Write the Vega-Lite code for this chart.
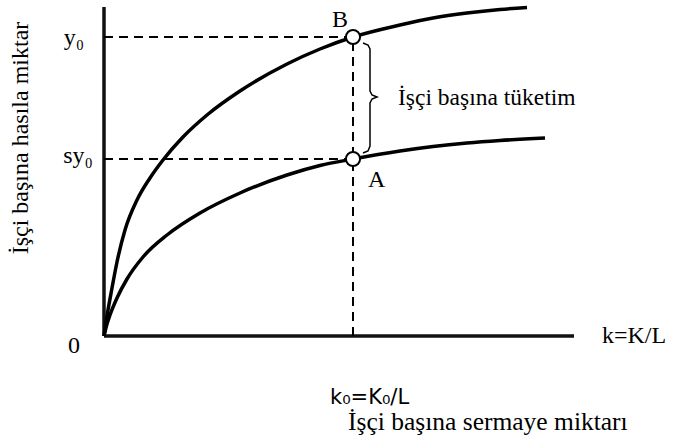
{
  "$schema": "https://vega.github.io/schema/vega-lite/v6.json",
  "width": 470,
  "height": 329,
  "autosize": {"type": "none"},
  "padding": {"left": 104, "top": 7, "right": 106, "bottom": 112},
  "background": "white",
  "config": {"view": {"stroke": null}, "text": {"font": "Liberation Serif"}},
  "datasets": {
    "curves": [
      {"series": "f", "k": 0, "v": 0},
      {"series": "f", "k": 3, "v": 20},
      {"series": "f", "k": 8, "v": 48},
      {"series": "f", "k": 13, "v": 74},
      {"series": "f", "k": 21, "v": 106},
      {"series": "f", "k": 33, "v": 136},
      {"series": "f", "k": 46, "v": 158},
      {"series": "f", "k": 59, "v": 176},
      {"series": "f", "k": 79, "v": 199},
      {"series": "f", "k": 103, "v": 221},
      {"series": "f", "k": 136, "v": 245},
      {"series": "f", "k": 183, "v": 272},
      {"series": "f", "k": 216, "v": 287},
      {"series": "f", "k": 249, "v": 299},
      {"series": "f", "k": 296, "v": 311},
      {"series": "f", "k": 329, "v": 318},
      {"series": "f", "k": 363, "v": 323},
      {"series": "f", "k": 396, "v": 326.5},
      {"series": "f", "k": 423, "v": 328.5},
      {"series": "sf", "k": 0, "v": 0},
      {"series": "sf", "k": 3, "v": 12},
      {"series": "sf", "k": 6, "v": 21},
      {"series": "sf", "k": 13, "v": 38},
      {"series": "sf", "k": 23, "v": 57},
      {"series": "sf", "k": 39, "v": 79},
      {"series": "sf", "k": 63, "v": 101},
      {"series": "sf", "k": 96, "v": 123},
      {"series": "sf", "k": 136, "v": 143},
      {"series": "sf", "k": 183, "v": 161},
      {"series": "sf", "k": 216, "v": 170.5},
      {"series": "sf", "k": 249, "v": 177},
      {"series": "sf", "k": 296, "v": 185},
      {"series": "sf", "k": 329, "v": 189.5},
      {"series": "sf", "k": 363, "v": 193},
      {"series": "sf", "k": 396, "v": 195.5},
      {"series": "sf", "k": 441, "v": 198}
    ],
    "axes": [
      {"k": 0, "k2": 0, "v": 0, "v2": 329},
      {"k": 0, "k2": 470, "v": 0, "v2": 0}
    ],
    "dashes": [
      {"k": 0, "k2": 249, "v": 299, "v2": 299},
      {"k": 0, "k2": 249, "v": 177, "v2": 177},
      {"k": 249, "k2": 249, "v": 0, "v2": 299}
    ],
    "brace": [
      {"o": 1, "k": 259, "v": 293},
      {"o": 2, "k": 264, "v": 291},
      {"o": 3, "k": 266, "v": 287},
      {"o": 4, "k": 266, "v": 245},
      {"o": 5, "k": 268, "v": 241},
      {"o": 6, "k": 273, "v": 239},
      {"o": 7, "k": 268, "v": 237},
      {"o": 8, "k": 266, "v": 233},
      {"o": 9, "k": 266, "v": 190},
      {"o": 10, "k": 264, "v": 185},
      {"o": 11, "k": 259, "v": 183}
    ],
    "points": [
      {"k": 249, "v": 299},
      {"k": 249, "v": 177}
    ],
    "labels": [
      {"g": "sr", "label": "y₀", "k": -20, "v": 291, "size": 24},
      {"g": "sr", "label": "sy₀", "k": -11, "v": 173, "size": 24},
      {"g": "sc", "label": "0", "k": -30, "v": -17, "size": 24},
      {"g": "sl", "label": "k=K/L", "k": 498, "v": -7, "size": 24},
      {"g": "ns", "label": "k₀=K₀/L", "k": 226, "v": -68, "size": 21},
      {"g": "sl", "label": "İşçi başına sermaye miktarı", "k": 244, "v": -94, "size": 25.5},
      {"g": "sc", "label": "B", "k": 236, "v": 309, "size": 24},
      {"g": "sl", "label": "A", "k": 264, "v": 149, "size": 24},
      {"g": "sl", "label": "İşçi başına tüketim", "k": 294, "v": 231, "size": 23.5}
    ],
    "title": [
      {"label": "İşçi başına hasıla miktar", "k": -83, "v": 198}
    ]
  },
  "layer": [
    {
      "data": {"name": "axes"},
      "mark": {"type": "rule", "color": "#111", "strokeWidth": 3.5},
      "encoding": {
        "x": {"field": "k", "type": "quantitative", "scale": {"domain": [0, 470], "nice": false, "zero": false}, "axis": null},
        "x2": {"field": "k2"},
        "y": {"field": "v", "type": "quantitative", "scale": {"domain": [0, 329], "nice": false, "zero": false}, "axis": null},
        "y2": {"field": "v2"}
      }
    },
    {
      "data": {"name": "dashes"},
      "mark": {"type": "rule", "color": "black", "strokeWidth": 2, "strokeDash": [9, 6]},
      "encoding": {
        "x": {"field": "k", "type": "quantitative"},
        "x2": {"field": "k2"},
        "y": {"field": "v", "type": "quantitative"},
        "y2": {"field": "v2"}
      }
    },
    {
      "data": {"name": "curves"},
      "mark": {"type": "line", "color": "black", "strokeWidth": 3.5, "interpolate": "monotone"},
      "encoding": {
        "x": {"field": "k", "type": "quantitative"},
        "y": {"field": "v", "type": "quantitative"},
        "detail": {"field": "series"}
      }
    },
    {
      "data": {"name": "brace"},
      "mark": {"type": "line", "color": "black", "strokeWidth": 1.5},
      "encoding": {
        "x": {"field": "k", "type": "quantitative"},
        "y": {"field": "v", "type": "quantitative"},
        "order": {"field": "o"}
      }
    },
    {
      "data": {"name": "points"},
      "mark": {"type": "point", "shape": "circle", "filled": false, "fill": "white", "fillOpacity": 1, "stroke": "black", "strokeWidth": 2, "size": 200, "opacity": 1},
      "encoding": {
        "x": {"field": "k", "type": "quantitative"},
        "y": {"field": "v", "type": "quantitative"}
      }
    },
    {
      "data": {"name": "labels"},
      "transform": [{"filter": "datum.g === 'sr'"}],
      "mark": {"type": "text", "color": "black", "baseline": "alphabetic", "align": "right", "font": "Liberation Serif"},
      "encoding": {
        "x": {"field": "k", "type": "quantitative"},
        "y": {"field": "v", "type": "quantitative"},
        "text": {"field": "label"},
        "size": {"field": "size", "type": "quantitative", "scale": null}
      }
    },
    {
      "data": {"name": "labels"},
      "transform": [{"filter": "datum.g === 'sc'"}],
      "mark": {"type": "text", "color": "black", "baseline": "alphabetic", "align": "center", "font": "Liberation Serif"},
      "encoding": {
        "x": {"field": "k", "type": "quantitative"},
        "y": {"field": "v", "type": "quantitative"},
        "text": {"field": "label"},
        "size": {"field": "size", "type": "quantitative", "scale": null}
      }
    },
    {
      "data": {"name": "labels"},
      "transform": [{"filter": "datum.g === 'sl'"}],
      "mark": {"type": "text", "color": "black", "baseline": "alphabetic", "align": "left", "font": "Liberation Serif"},
      "encoding": {
        "x": {"field": "k", "type": "quantitative"},
        "y": {"field": "v", "type": "quantitative"},
        "text": {"field": "label"},
        "size": {"field": "size", "type": "quantitative", "scale": null}
      }
    },
    {
      "data": {"name": "labels"},
      "transform": [{"filter": "datum.g === 'ns'"}],
      "mark": {"type": "text", "color": "black", "baseline": "alphabetic", "align": "left", "font": "DejaVu Sans"},
      "encoding": {
        "x": {"field": "k", "type": "quantitative"},
        "y": {"field": "v", "type": "quantitative"},
        "text": {"field": "label"},
        "size": {"field": "size", "type": "quantitative", "scale": null}
      }
    },
    {
      "data": {"name": "title"},
      "mark": {"type": "text", "color": "black", "font": "Liberation Serif", "fontSize": 24, "angle": 270, "align": "center", "baseline": "middle"},
      "encoding": {
        "x": {"field": "k", "type": "quantitative"},
        "y": {"field": "v", "type": "quantitative"},
        "text": {"field": "label"}
      }
    }
  ]
}
